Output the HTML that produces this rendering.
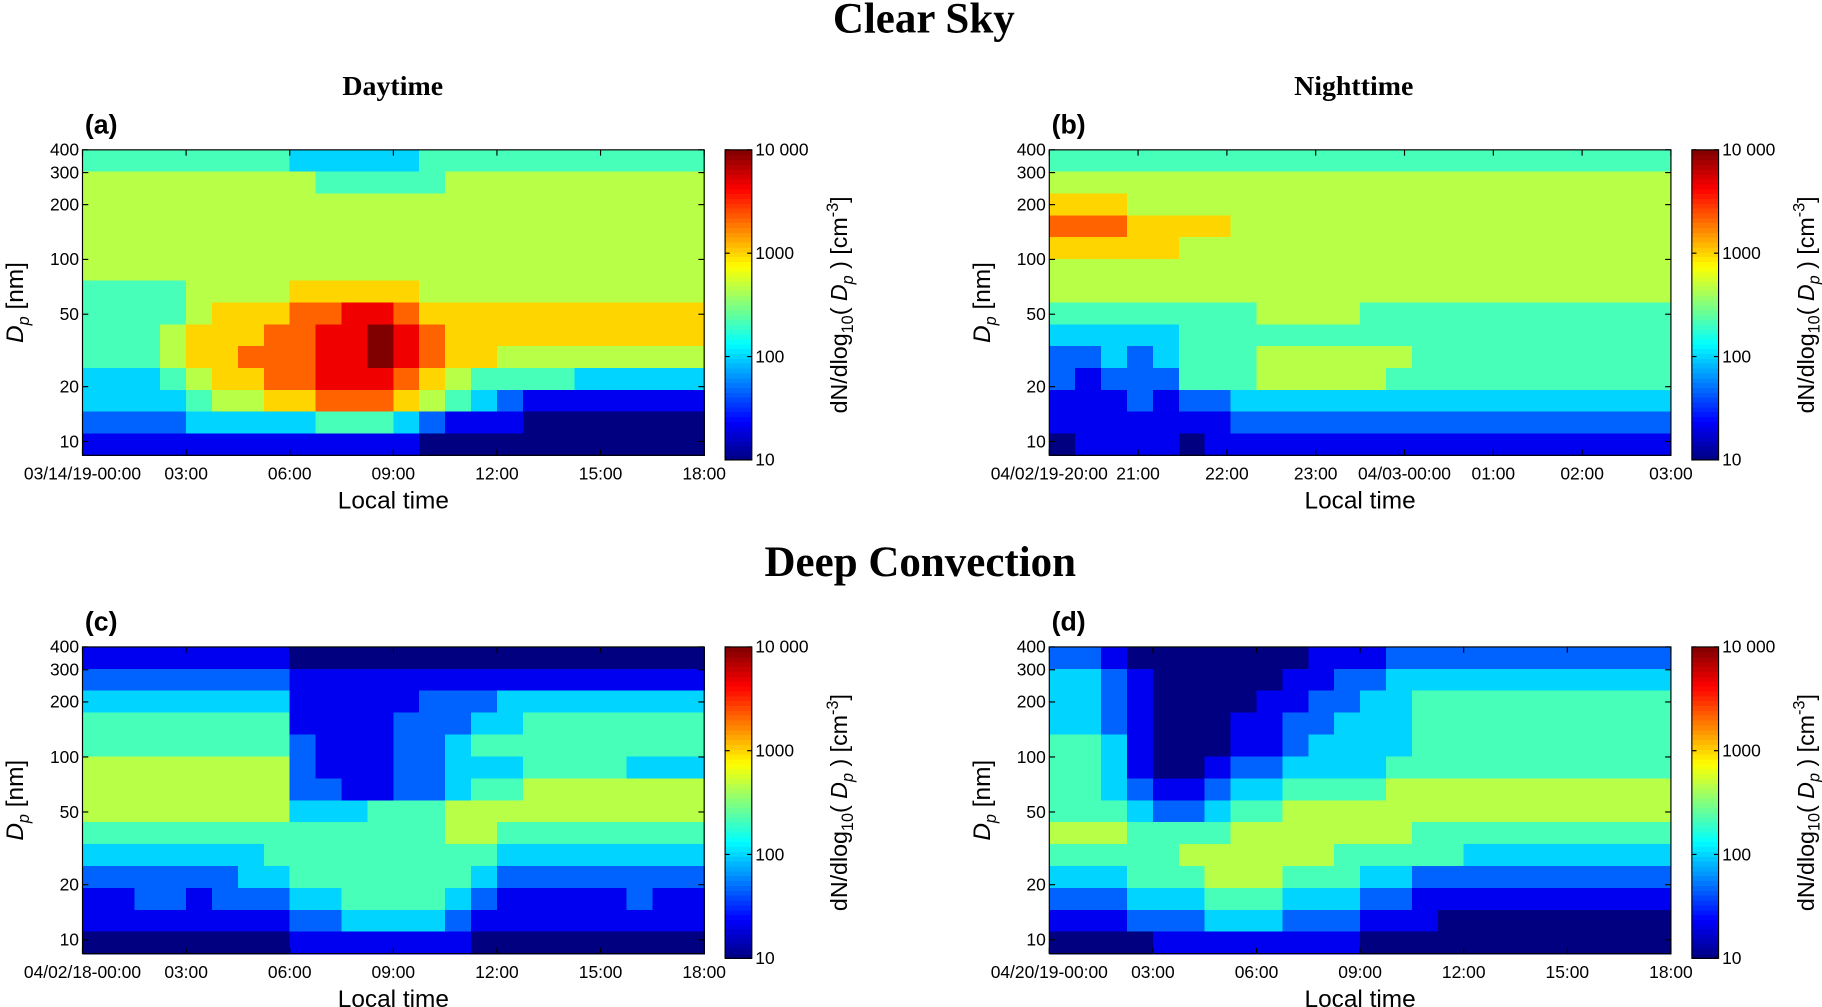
<!DOCTYPE html>
<html><head><meta charset="utf-8"><style>
html,body{margin:0;padding:0;background:#fff;}
svg{display:block;}
</style></head><body>
<svg id="fig" xmlns="http://www.w3.org/2000/svg" width="1822" height="1007" viewBox="0 0 1568 867" preserveAspectRatio="none">
<rect width="1568" height="867" fill="#fff"/>
<text x="795" y="28" text-anchor="middle" font-family="Liberation Serif, serif" font-weight="bold" font-size="37">Clear Sky</text>
<text x="338" y="82" text-anchor="middle" font-family="Liberation Serif, serif" font-weight="bold" font-size="24">Daytime</text>
<text x="1165" y="82" text-anchor="middle" font-family="Liberation Serif, serif" font-weight="bold" font-size="24">Nighttime</text>
<text x="792" y="496" text-anchor="middle" font-family="Liberation Serif, serif" font-weight="bold" font-size="37">Deep Convection</text>
<g id="panels"></g>
</svg>
<script>
// Heatmap data: rows top (largest Dp) to bottom, digits 0-9 => log10(N) = 1 + d/3
const rowDiameters = [348,264,200,152,115,87,66,50,38,29,22,16.7,12.7,9.6];
const panelA = [
"444444443333344444444444",
"555555555444445555555555",
"555555555555555555555555",
"555555555555555555555555",
"555555555555555555555555",
"555555555555555555555555",
"444455556666655555555555",
"444456667788766666666666",
"444566677889876666666666",
"444566777889876655555555",
"333456677888765444433333",
"333345566777654321111111",
"222233333444321110000000",
"111111111111100000000000"];
const panelB = [
"444444444444444444444444",
"555555555555555555555555",
"666555555555555555555555",
"777666655555555555555555",
"666665555555555555555555",
"555555555555555555555555",
"555555555555555555555555",
"444444445555444444444444",
"333334444444444444444444",
"223234445555554444444444",
"212224445555544444444444",
"111212233333333333333333",
"111111122222222222222222",
"011110111111111111111111"];
const panelC = [
"111111110000000000000000",
"222222221111111111111111",
"333333331111122233333333",
"444444441111222334444444",
"444444442111223444444444",
"555555552111223334444333",
"555555552211223445555555",
"555555553334445555555555",
"444444444444445544444444",
"333333344444444433333333",
"222222334444444322222222",
"112212223344443211111211",
"111111112233332111111111",
"000000001111111000000000"];
const panelD = [
"221000000011122222222222",
"332100000112233333333333",
"332100001122334444444444",
"332100011223334444444444",
"443100011233334444444444",
"443100122333344444444444",
"443211233444455555555555",
"444322344555555555555555",
"555444455555554444444444",
"444445555554444433333333",
"333444555444332222222222",
"222333444333221111111111",
"111222333222111000000000",
"000011111111000000000000"];
const yTicks = [10,20,50,100,200,300,400];
const cbTicks = [10,100,1000,10000];
const cbTickLabels = ["10","100","1000","10 000"];
const xLabelsA = ["03/14/19-00:00","03:00","06:00","09:00","12:00","15:00","18:00"];
const xLabelsB = ["04/02/19-20:00","21:00","22:00","23:00","04/03-00:00","01:00","02:00","03:00"];
const xLabelsC = ["04/02/18-00:00","03:00","06:00","09:00","12:00","15:00","18:00"];
const xLabelsD = ["04/20/19-00:00","03:00","06:00","09:00","12:00","15:00","18:00"];

const NS="http://www.w3.org/2000/svg";
function mk(tag,attrs,parent){const e=document.createElementNS(NS,tag);for(const k in attrs)e.setAttribute(k,attrs[k]);parent.appendChild(e);return e;}
function jet(t){t=Math.max(0,Math.min(1,t));
 const r=Math.max(0,Math.min(1,Math.min(4*t-1.5,-4*t+4.5)));
 const g=Math.max(0,Math.min(1,Math.min(4*t-0.5,-4*t+3.5)));
 const b=Math.max(0,Math.min(1,Math.min(4*t+0.5,-4*t+2.5)));
 return `rgb(${Math.round(r*255)},${Math.round(g*255)},${Math.round(b*255)})`;}
const root=document.getElementById('panels');
const LMAX=Math.log10(400), LMIN=0.924;
function panel(cfg){
 const g=mk('g',{},root);
 
 
 const {x0,y0,w,h}=cfg;
 const yS=d=>y0+(LMAX-Math.log10(d))/(LMAX-LMIN)*h;
 const rows=cfg.data.length, cols=cfg.data[0].length;
 const edges=[]; for(let i=0;i<=rows;i++)edges.push(LMAX-(LMAX-LMIN)*i/rows);
 const hm=mk('g',{'shape-rendering':'crispEdges'},g);
 
 
 for(let r=0;r<rows;r++){for(let c=0;c<cols;c++){
   const v=+cfg.data[r][c]; const lg=1+v/3;
   const ya=yS(Math.pow(10,edges[r])), yb=yS(Math.pow(10,edges[r+1]));
   const xa=x0+c*w/cols;
   const cell=mk('rect',{x:xa,y:ya,width:w/cols+0.6,height:yb-ya+0.6,fill:jet((lg-1)/3)},hm);
   
   
 }}
 mk('rect',{x:x0,y:y0,width:w,height:h,fill:'none',stroke:'#000','stroke-width':1},g);
 yTicks.forEach(t=>{const y=yS(t);
  mk('line',{x1:x0,x2:x0+5,y1:y,y2:y,stroke:'#000'},g);
  mk('line',{x1:x0+w,x2:x0+w-5,y1:y,y2:y,stroke:'#000'},g);
  const tx=mk('text',{x:x0-3,y:y+5,'text-anchor':'end','font-family':'Liberation Sans, sans-serif','font-size':15},g);
  tx.textContent=t;
  
  });
 const n=cfg.xl.length-1;
 cfg.xl.forEach((l,i)=>{const x=x0+i*w/n;
  mk('line',{x1:x,x2:x,y1:y0+h,y2:y0+h-5,stroke:'#000'},g);
  mk('line',{x1:x,x2:x,y1:y0,y2:y0+5,stroke:'#000'},g);
  const tx=mk('text',{x:x,y:y0+h+21,'text-anchor':'middle','font-family':'Liberation Sans, sans-serif','font-size':15},g);
  tx.textContent=l;
  
  });
 const xt=mk('text',{x:x0+w/2,y:y0+h+46,'text-anchor':'middle','font-family':'Liberation Sans, sans-serif','font-size':21},g);
 xt.textContent='Local time';
 
 
 const yt=mk('text',{transform:`translate(${x0-51},${y0+h/2}) rotate(-90)`,'text-anchor':'middle','font-family':'Liberation Sans, sans-serif','font-size':21},g);
 yt.innerHTML='<tspan font-style="italic">D</tspan><tspan font-style="italic" font-size="14" dy="5">p</tspan><tspan dy="-5"> [nm]</tspan>';
 
 
 const pl=mk('text',{x:x0+2,y:y0-14,'font-family':'Liberation Sans, sans-serif','font-weight':'bold','font-size':23},g);
 pl.textContent='('+cfg.id+')';
 
 
 const cx=x0+w+18, cw=23, ct=y0, ch=h+4;
 const cb=mk('g',{'shape-rendering':'crispEdges'},g);
 
 
 const N=64;
 for(let i=0;i<N;i++){mk('rect',{x:cx,y:ct+ch*(N-1-i)/N,width:cw,height:ch/N+0.6,fill:jet((i+0.5)/N)},cb);}
 mk('rect',{x:cx,y:ct,width:cw,height:ch,fill:'none',stroke:'#000'},g);
 cbTicks.forEach((t,i)=>{const y=ct+ch*(1-(Math.log10(t)-1)/3);
  mk('line',{x1:cx,x2:cx+4,y1:y,y2:y,stroke:'#000'},g);
  mk('line',{x1:cx+cw,x2:cx+cw-4,y1:y,y2:y,stroke:'#000'},g);
  const tx=mk('text',{x:cx+cw+3,y:y+5,'font-family':'Liberation Sans, sans-serif','font-size':15},g);
  tx.textContent=cbTickLabels[i];
  
  });
 const ct2=mk('text',{transform:`translate(${cx+cw+82},${ct+ch/2}) rotate(-90)`,'text-anchor':'middle','font-family':'Liberation Sans, sans-serif','font-size':20},g);
 ct2.innerHTML='dN/dlog<tspan font-size="14" dy="5">10</tspan><tspan dy="-5">( </tspan><tspan font-style="italic">D</tspan><tspan font-style="italic" font-size="14" dy="5">p</tspan><tspan dy="-5"> ) [cm</tspan><tspan font-size="14" dy="-8">-3</tspan><tspan dy="8">]</tspan>';
 
 
}
panel({id:'a',x0:71,y0:129,w:535,h:263,data:panelA,xl:xLabelsA});
panel({id:'b',x0:903,y0:129,w:535,h:263,data:panelB,xl:xLabelsB});
panel({id:'c',x0:71,y0:557,w:535,h:264,data:panelC,xl:xLabelsC});
panel({id:'d',x0:903,y0:557,w:535,h:264,data:panelD,xl:xLabelsD});
</script>
</body></html>
